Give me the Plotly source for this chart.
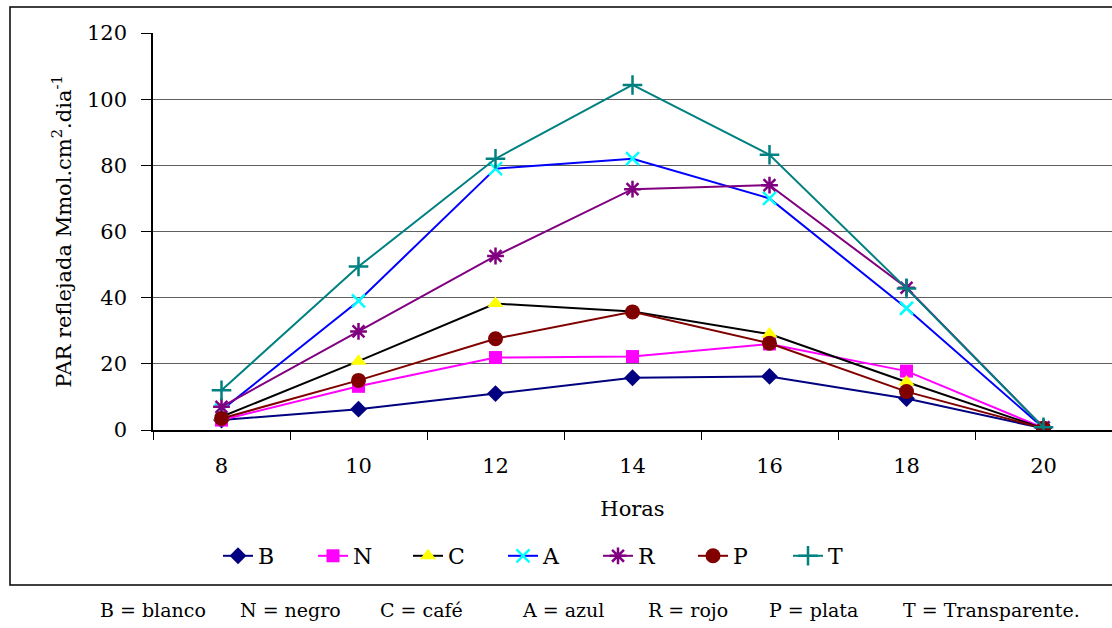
import plotly.graph_objects as go

horas = ["8", "10", "12", "14", "16", "18", "20"]
B = [3.0, 6.3, 11.0, 15.8, 16.2, 9.5, 0.5]
N = [3.0, 13.2, 21.9, 22.2, 26.0, 17.8, 0.6]
C = [4.0, 20.8, 38.2, 35.8, 29.0, 14.5, 0.5]
A = [6.0, 39.0, 79.0, 82.0, 70.0, 36.8, 0.6]
R = [7.0, 29.8, 52.6, 72.8, 74.0, 43.0, 0.8]
P = [3.5, 15.0, 27.6, 35.7, 26.2, 11.6, 0.5]
T = [12.0, 49.4, 82.0, 104.3, 83.2, 42.8, 0.8]
y_ticks = [0, 20, 40, 60, 80, 100, 120]
footnote_items = ["B = blanco", "N = negro", "C = café", "A = azul",
                  "R = rojo", "P = plata", "T = Transparente."]
footnote_centers_px = [153, 290, 421, 563, 688, 813, 991]

series = [
    ("B", B, "#000080", dict(symbol="diamond", color="#000080", size=13)),
    ("N", N, "#FF00FF", dict(symbol="square", color="#FF00FF", size=13)),
    ("C", C, "#000000", dict(symbol="triangle-up", color="#FFFF00", size=14)),
    ("A", A, "#0000FF", dict(symbol="x-thin-open", color="#00FFFF", size=13,
                             line=dict(color="#00FFFF", width=2.5))),
    ("R", R, "#800080", dict(symbol="asterisk-open", color="#800080", size=14,
                             line=dict(color="#800080", width=2.5))),
    ("P", P, "#800000", dict(symbol="circle", color="#800000", size=15)),
    ("T", T, "#008080", dict(symbol="cross-thin-open", color="#008080", size=14,
                             line=dict(color="#008080", width=2.5))),
]

fig = go.Figure()
for name, vals, lc, mk in series:
    fig.add_trace(go.Scatter(x=horas, y=vals, name=name, mode="lines+markers",
                             line=dict(color=lc, width=2), marker=mk))

FAM = "DejaVu Serif"
L, TOP, W, H = 153, 33, 959, 397
def px_x(px):
    return (px - L) / W
def px_y(py):
    return (TOP + H - py) / H

fig.update_layout(
    width=1112, height=628,
    margin=dict(l=L, r=0, t=TOP, b=628 - TOP - H),
    paper_bgcolor="white", plot_bgcolor="white",
    font=dict(family=FAM, size=21, color="black"),
    showlegend=True,
    legend=dict(orientation="h", x=px_x(218), xanchor="left", y=px_y(556), yanchor="middle",
                font=dict(size=22, family=FAM), itemwidth=30, entrywidth=50,
                entrywidthmode="pixels", tracegroupgap=0, bgcolor="rgba(0,0,0,0)"),
    xaxis=dict(type="category", range=[-0.5, 6.5], tickson="boundaries",
               ticks="outside", ticklen=8, tickcolor="black", showgrid=False,
               showline=True, linecolor="black", linewidth=1.5, ticklabelstandoff=16,
               title=dict(text="Horas", font=dict(size=21, family=FAM), standoff=24),
               tickfont=dict(size=21, family=FAM)),
    yaxis=dict(range=[0, 120], tickvals=y_ticks, ticks="outside", ticklen=10,
               tickcolor="black", showline=True, linecolor="black", linewidth=1.5,
               gridcolor="#606060", gridwidth=1.2, zeroline=False, ticklabelstandoff=10,
               title=dict(text="PAR reflejada Mmol.cm<sup>2</sup>.dia<sup>-1</sup>",
                          font=dict(size=21, family=FAM), standoff=10),
               tickfont=dict(size=21, family=FAM)),
)

# outer chart border
fig.add_shape(type="rect", xref="paper", yref="paper",
              x0=px_x(10), x1=1.01, y0=px_y(585), y1=px_y(7),
              line=dict(color="black", width=1.5), fillcolor="rgba(0,0,0,0)", layer="below")

for txt, cx in zip(footnote_items, footnote_centers_px):
    fig.add_annotation(xref="paper", yref="paper", x=px_x(cx), y=px_y(610),
                       text=txt, showarrow=False, font=dict(size=19, family=FAM),
                       xanchor="center", yanchor="middle")

fig.write_html("out.html")
